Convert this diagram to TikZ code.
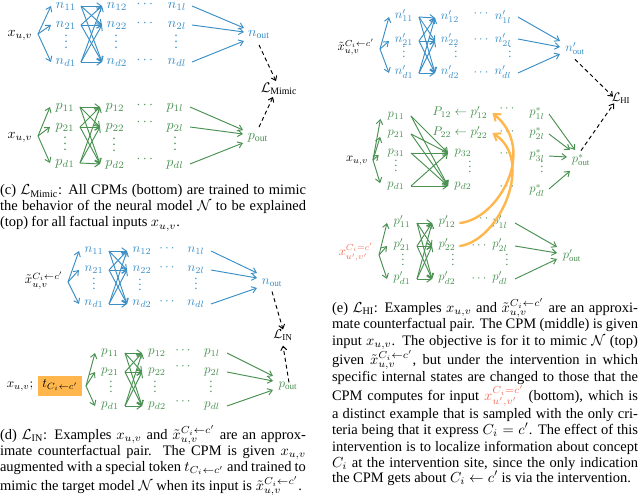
\documentclass[tikz,border=0pt]{standalone}
\usepackage{amsmath}
\usepackage[no-math]{fontspec}
\setmainfont{Liberation Serif}
\usetikzlibrary{arrows.meta,calc}
\definecolor{nblue}{HTML}{3B8FC6}
\definecolor{pgreen}{HTML}{4A9152}
\definecolor{hot}{HTML}{FFB74D}
\definecolor{redx}{HTML}{EF6F5A}
\def\lscale{1.4}
\tikzset{
  lab/.style={scale=\lscale,inner sep=0pt,outer sep=0pt,minimum width=30pt/\lscale,text height=5pt,text depth=2pt,align=center},
  pxw/.style={minimum width=#1pt/\lscale},
  captext/.style={scale=1.45,inner sep=0pt,outer sep=0pt,anchor=base west,text=black},
  bl/.style={draw=nblue,line width=0.95pt,-{Straight Barb[length=4.5pt,width=6.5pt]}},
  gr/.style={draw=pgreen,line width=0.95pt,-{Straight Barb[length=4.5pt,width=6.5pt]}},
  dsh/.style={draw=black,line width=0.95pt,dashed,dash pattern=on 4pt off 3pt,-{Straight Barb[length=4pt,width=6pt]}},
  hotarrow/.style={draw=hot,line width=2.4pt,line cap=round,-{Straight Barb[length=6pt,width=9pt,line width=2pt]}}
}
\newcommand\lab[5][]{\node[lab,#1] (#2) at (#3,#4) {$#5$};}
\newcommand\capl[5]{\node[captext] (#1) at (#2,#3) {\hbox to \dimexpr #4pt*100/145\relax{#5}};}
\newcommand\bip[3]{\foreach \a in {#2} \foreach \b in {#3} \draw[#1] (\a.east) -- (\b.west);}
\newcommand\xtil{\tilde{x}_{u,v}^{C_i\leftarrow c'}}
\newcommand\xred{x_{u',v'}^{C_i=c'}}
\begin{document}
\begin{tikzpicture}[x=1pt,y=-1pt]
\useasboundingbox (0,0) rectangle (640,497);
% ---------- (c) top blue
\def\lscale{1.4}
\lab[pxw=36]{Ax}{20}{34}{x_{u,v}}
\begin{scope}[every node/.append style={text=nblue}]
\lab{An1}{66}{6}{n_{11}} \lab{An2}{66}{25}{n_{21}} \lab{Anv}{66}{46}{\vdots} \lab{And}{66}{62}{n_{d1}}
\lab{Am1}{117}{6}{n_{12}} \lab{Am2}{117}{25}{n_{22}} \lab{Amv}{116}{46}{\vdots} \lab{Amd}{117}{62}{n_{d2}}
\lab{Ad1}{146}{5}{\cdots} \lab{Ad2}{146}{24}{\cdots} \lab{Ad3}{146}{61}{\cdots}
\lab{Al1}{177}{6}{n_{1l}} \lab{Al2}{177}{25}{n_{2l}} \lab{Alv}{176}{46}{\vdots} \lab{Ald}{177}{62}{n_{dl}}
\lab{Aout}{259}{34}{n_{\text{out}}}
\end{scope}
\foreach \t in {An1,An2,And} \draw[bl] (Ax.east) -- (\t.west);
\bip{bl}{An1,An2,And}{Am1,Am2,Amd}
\draw[bl] (Al1.east) -- ([yshift=6pt]Aout.west);
\draw[bl] (Al2.east) -- ([yshift=2pt]Aout.west);
\draw[bl] (Ald.east) -- ([yshift=-7pt]Aout.west);
% ---------- (c) bottom green
\lab[pxw=36]{Bx}{20}{136}{x_{u,v}}
\begin{scope}[every node/.append style={text=pgreen}]
\lab{Bn1}{65}{107}{p_{11}} \lab{Bn2}{65}{127}{p_{21}} \lab{Bnv}{65}{148}{\vdots} \lab{Bnd}{65}{163}{p_{d1}}
\lab{Bm1}{115}{107}{p_{12}} \lab{Bm2}{115}{127}{p_{22}} \lab{Bmv}{114}{149}{\vdots} \lab{Bmd}{115}{164}{p_{d2}}
\lab{Bd1}{146}{106}{\cdots} \lab{Bd2}{146}{123}{\cdots} \lab{Bd3}{146}{160}{\cdots}
\lab{Bl1}{175}{107}{p_{1l}} \lab{Bl2}{175}{127}{p_{2l}} \lab{Blv}{175}{148}{\vdots} \lab{Bld}{175}{164}{p_{dl}}
\lab{Bout}{258}{137}{p_{\text{out}}}
\end{scope}
\foreach \t in {Bn1,Bn2,Bnd} \draw[gr] (Bx.east) -- (\t.west);
\bip{gr}{Bn1,Bn2,Bnd}{Bm1,Bm2,Bmd}
\draw[gr] (Bl1.east) -- ([yshift=7pt]Bout.west);
\draw[gr] (Bl2.east) -- ([yshift=3pt]Bout.west);
\draw[gr] (Bld.east) -- ([yshift=-6pt]Bout.west);
\lab{Lm}{279}{90}{\mathcal{L}_{\text{Mimic}}}
\draw[dsh] ([yshift=-6pt]Aout.south) -- ([shift={(-3pt,4pt)}]Lm.north);
\draw[dsh] ([shift={(1pt,5pt)}]Bout.north) -- ([shift={(-6pt,-2pt)}]Lm.south);
% ---------- (d) blue
\def\lscale{1.3}
\lab[pxw=48]{Cx}{44}{282}{\xtil}
\begin{scope}[every node/.append style={text=nblue}]
\lab{Cn1}{94}{251}{n_{11}} \lab{Cn2}{94}{270}{n_{21}} \lab{Cnv}{94}{288}{\vdots} \lab{Cnd}{94}{304}{n_{d1}}
\lab{Cm1}{142}{251}{n_{12}} \lab{Cm2}{142}{270}{n_{22}} \lab{Cmv}{140}{289}{\vdots} \lab{Cmd}{142}{304}{n_{d2}}
\lab{Cd1}{168}{250}{\cdots} \lab{Cd2}{168}{269}{\cdots} \lab{Cd3}{168}{303}{\cdots}
\lab{Cl1}{196}{251}{n_{1l}} \lab{Cl2}{196}{270}{n_{2l}} \lab{Clv}{196}{288}{\vdots} \lab{Cld}{196}{304}{n_{dl}}
\lab{Cout}{272}{283}{n_{\text{out}}}
\end{scope}
\foreach \t in {Cn1,Cn2,Cnd} \draw[bl] (Cx.east) -- (\t.west);
\bip{bl}{Cn1,Cn2,Cnd}{Cm1,Cm2,Cmd}
\draw[bl] (Cl1.east) -- ([yshift=10pt]Cout.west);
\draw[bl] (Cl2.east) -- ([yshift=5pt]Cout.west);
\draw[bl] (Cld.east) -- ([yshift=-5pt]Cout.west);
% ---------- (d) green
\lab[pxw=26]{Dx}{20}{386}{x_{u,v};}
\node[lab,fill=hot,pxw=44,minimum height=20pt/\lscale,text height=5pt,text depth=3pt] (Dt) at (60,386) {$t_{C_i\leftarrow c'}$};
\begin{scope}[every node/.append style={text=pgreen}]
\lab{Dn1}{110}{353}{p_{11}} \lab{Dn2}{110}{372}{p_{21}} \lab{Dnv}{111}{391}{\vdots} \lab{Dnd}{110}{406}{p_{d1}}
\lab{Dm1}{157}{353}{p_{12}} \lab{Dm2}{157}{372}{p_{22}} \lab{Dmv}{155}{391}{\vdots} \lab{Dmd}{157}{406}{p_{d2}}
\lab{Dd1}{184}{352}{\cdots} \lab{Dd2}{184}{368}{\cdots} \lab{Dd3}{184}{403}{\cdots}
\lab{Dl1}{212}{353}{p_{1l}} \lab{Dl2}{212}{372}{p_{2l}} \lab{Dlv}{211}{391}{\vdots} \lab{Dld}{212}{406}{p_{dl}}
\lab{Dout}{288}{386}{p_{\text{out}}}
\end{scope}
\foreach \t in {Dn1,Dn2,Dnd} \draw[gr] ([xshift=4pt]Dt.east) -- (\t.west);
\bip{gr}{Dn1,Dn2,Dnd}{Dm1,Dm2,Dmd}
\draw[gr] (Dl1.east) -- ([yshift=10pt]Dout.west);
\draw[gr] (Dl2.east) -- ([yshift=5pt]Dout.west);
\draw[gr] (Dld.east) -- ([yshift=-4pt]Dout.west);
\lab{Lin}{283}{337}{\mathcal{L}_{\text{IN}}}
\draw[dsh] ([yshift=-4pt]Cout.south) -- ([yshift=3pt]Lin.north);
\draw[dsh] ([shift={(1pt,-1pt)}]Dout.north) -- ([shift={(0pt,-4pt)}]Lin.south);
% ---------- (e) top blue
\def\lscale{1.25}
\lab[pxw=48]{Ex}{356}{49}{\xtil}
\begin{scope}[every node/.append style={text=nblue}]
\lab{En1}{404}{17}{n'_{11}} \lab{En2}{404}{41}{n'_{21}} \lab{Env}{404}{56}{\vdots} \lab{End}{404}{73}{n'_{d1}}
\lab{Em1}{450}{18}{n'_{12}} \lab{Em2}{450}{41}{n'_{22}} \lab{Emv}{456}{56}{\vdots} \lab{Emd}{450}{73}{n'_{d2}}
\lab{Ed1}{482}{15}{\cdots} \lab{Ed2}{482}{41}{\cdots} \lab{Ed3}{482}{74}{\cdots}
\lab{El1}{503}{18}{n'_{1l}} \lab{El2}{503}{41}{n'_{2l}} \lab{Elv}{510}{56}{\vdots} \lab{Eld}{503}{73}{n'_{dl}}
\lab{Eout}{575}{50}{n'_{\text{out}}}
\end{scope}
\foreach \t in {En1,En2,End} \draw[bl] (Ex.east) -- (\t.west);
\bip{bl}{En1,En2,End}{Em1,Em2,Emd}
\draw[bl] ([yshift=1pt]El1.east) -- ([yshift=9pt]Eout.west);
\draw[bl] ([yshift=2pt]El2.east) -- ([yshift=3pt]Eout.west);
\draw[bl] (Eld.east) -- ([yshift=-4pt]Eout.west);
% ---------- (e) middle green
\lab[pxw=32]{Fx}{357}{160}{x_{u,v}}
\begin{scope}[every node/.append style={text=pgreen}]
\lab{Fn1}{396}{116}{p_{11}} \lab{Fn2}{396}{134}{p_{21}} \lab{Fn3}{396}{153}{p_{31}} \lab{Fnv}{396}{170}{\vdots} \lab{Fnd}{396}{186}{p_{d1}}
\lab{Fm3}{463}{153}{p_{32}} \lab{Fmv}{470}{171}{\vdots} \lab{Fmd}{463}{186}{p_{d2}}
\node[lab] (Fs1) at (460,114) {$P_{12}\leftarrow p'_{12}$};
\node[lab] (Fs2) at (460,134) {$P_{22}\leftarrow p'_{22}$};
\lab{Fd1}{508}{110}{\cdots} \lab{Fd2}{508}{133}{\cdots} \lab{Fd3}{508}{155}{\cdots} \lab{Fd4}{508}{188}{\cdots}
\lab{Fl1}{537}{114}{p^{*}_{1l}} \lab{Fl2}{537}{134}{p^{*}_{2l}} \lab{Fl3}{537}{156}{p^{*}_{3l}} \lab{Flv}{542}{171}{\vdots} \lab{Fld}{537}{191}{p^{*}_{dl}}
\lab{Fout}{581}{161}{p^{*}_{\text{out}}}
\end{scope}
\foreach \t in {Fn1,Fn2,Fn3,Fnd} \draw[gr,shorten >=3pt] (Fx.east) -- (\t.west);
\bip{gr}{Fn1,Fn2,Fn3,Fnd}{Fm3,Fmd}
\draw[gr] ([xshift=-3pt]Fl1.east) -- ([shift={(-6pt,11pt)}]Fout.center);
\draw[gr] ([xshift=-3pt]Fl2.east) -- ([shift={(-11pt,11pt)}]Fout.center);
\draw[gr] ([xshift=-3pt]Fl3.east) -- ([shift={(-14pt,4pt)}]Fout.center);
\draw[gr] ([xshift=-3pt,yshift=2pt]Fld.east) -- ([shift={(-11pt,-10pt)}]Fout.center);
% ---------- (e) bottom green
\lab[pxw=46]{Gx}{356}{254}{\color{redx}\xred}
\begin{scope}[every node/.append style={text=pgreen}]
\lab{Gn1}{402}{223}{p'_{11}} \lab{Gn2}{402}{246}{p'_{21}} \lab{Gnv}{403}{264}{\vdots} \lab{Gnd}{402}{279}{p'_{d1}}
\lab{Gm1}{447}{223}{p'_{12}} \lab{Gm2}{447}{246}{p'_{22}} \lab{Gmv}{453}{264}{\vdots} \lab{Gmd}{447}{279}{p'_{d2}}
\lab{Gd1}{482}{220}{\cdots} \lab{Gd2}{480}{247}{\cdots} \lab{Gd3}{480}{280}{\cdots}
\lab{Gl1}{500}{223}{p'_{1l}} \lab{Gl2}{500}{246}{p'_{2l}} \lab{Glv}{507}{264}{\vdots} \lab{Gld}{500}{279}{p'_{dl}}
\lab{Gout}{572}{257}{p'_{\text{out}}}
\end{scope}
\foreach \t in {Gn1,Gn2,Gnd} \draw[gr] ([yshift=-1pt]Gx.east) -- (\t.west);
\bip{gr}{Gn1,Gn2,Gnd}{Gm1,Gm2,Gmd}
\draw[gr] (Gl1.east) -- ([yshift=10pt]Gout.west);
\draw[gr] (Gl2.east) -- ([yshift=4pt]Gout.west);
\draw[gr] (Gld.east) -- ([yshift=-2pt]Gout.west);
\lab{Lh}{621}{100}{\mathcal{L}_{\text{HI}}}
\draw[dsh] ([yshift=-5pt]Eout.south) -- ([shift={(-8pt,-1pt)}]Lh.north);
\draw[dsh] ([yshift=6pt]Fout.north) -- ([shift={(-7pt,1pt)}]Lh.south);
% intervention curves
\coordinate (Hs1) at ($(Gm1.east)+(-2,0)$);
\coordinate (Hs2) at ($(Gm2.east)+(-2,0)$);
\coordinate (Ht1) at ($(Fs1.east)+(5,-1)$);
\coordinate (Ht2) at ($(Fs2.east)+(5,-1)$);
\draw[hotarrow] (Hs1) .. controls (498,219) and (538,150) .. (Ht1);
\draw[hotarrow] (Hs2) .. controls (500,240) and (535,160) .. (Ht2);
% ---------- captions
\capl{c1}{0}{195}{306}{(c) $\mathcal{L}_{\text{Mimic}}$: All CPMs (bottom) are trained to mimic}
\capl{c2}{0}{211}{306}{the behavior of the neural model $\mathcal{N}$ to be explained}
\capl{c3}{0}{227}{180}{(top) for all factual inputs $x_{u,v}$.}
\capl{d1}{0}{439}{306}{(d) $\mathcal{L}_{\text{IN}}$: Examples $x_{u,v}$ and $\xtil$ are an approx-}
\capl{d2}{0}{455}{306}{imate counterfactual pair. The CPM is given $x_{u,v}$}
\capl{d3}{0}{471}{306}{augmented with a special token $t_{C_i\leftarrow c'}$ and trained to}
\capl{d4}{0}{490}{302}{mimic the target model $\mathcal{N}$ when its input is $\xtil$.}
\capl{e1}{332}{312}{306}{(e) $\mathcal{L}_{\text{HI}}$: Examples $x_{u,v}$ and $\xtil$ are an approxi-}
\capl{e2}{332}{328}{306}{mate counterfactual pair. The CPM (middle) is given}
\capl{e3}{332}{345}{306}{input $x_{u,v}$. The objective is for it to mimic $\mathcal{N}$ (top)}
\capl{e4}{332}{364}{306}{given $\xtil$, but under the intervention in which}
\capl{e5}{332}{381}{306}{specific internal states are changed to those that the}
\capl{e6}{332}{400}{306}{CPM computes for input ${\color{redx}\xred}$ (bottom), which is}
\capl{e7}{332}{418}{306}{a distinct example that is sampled with the only cri-}
\capl{e8}{332}{434}{306}{teria being that it express $C_i=c'$. The effect of this}
\capl{e9}{332}{451}{306}{intervention is to localize information about concept}
\capl{e10}{332}{467}{306}{$C_i$ at the intervention site, since the only indication}
\capl{e11}{332}{482}{299}{the CPM gets about $C_i\leftarrow c'$ is via the intervention.}
\end{tikzpicture}
\end{document}
